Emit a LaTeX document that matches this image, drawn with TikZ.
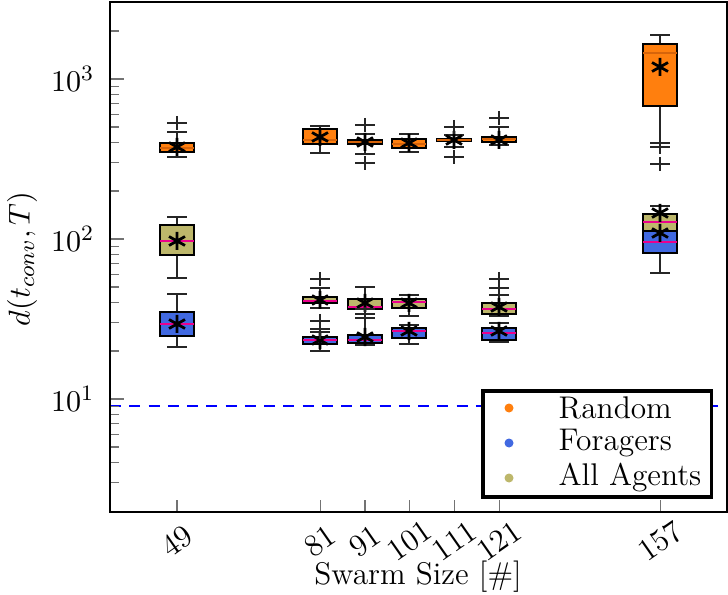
\documentclass[tikz,border=0pt]{standalone}
\usepackage{amsmath,amssymb}
\usepackage{tikz}
\usetikzlibrary{positioning,calc}

\definecolor{randomc}{RGB}{255,127,14}
\definecolor{randomd}{RGB}{215,100,10}
\definecolor{foragc}{RGB}{65,105,225}
\definecolor{allc}{RGB}{189,183,107}

\tikzset{
	box/.style={draw=black,line width=0.45pt},
	whisk/.style={black!85,line width=0.7pt},
	meanmark/.style={black,line width=1pt},
	tickmark/.style={black!55,line width=0.5pt},
	bigtext/.style={font=\fontsize{11.4}{13}\selectfont},
}

\begin{document}
\begin{tikzpicture}[x=0.3636pt,y=-0.3636pt,every node/.style={bigtext}]
	\useasboundingbox (0,0) rectangle (728,594);

	% threshold line
	\draw[blue,line width=0.6pt,dash pattern=on 4pt off 3pt] (110,406) -- (727,406);

	% The boxes: x/upper cap/box top/median/box bottom/lower cap/mean/fill/median colour
	\foreach \x/\uc/\bt/\md/\bb/\lc/\mn/\fc/\mc in {
		177/132/143/148/152/157/147/randomc/randomd,
		177/217/225/241/255/278/241/allc/magenta,
		177/294/312/324/336/347/324/foragc/magenta,
		320/126/129/140/144/153/137/randomc/randomd,
		365/134/140/142/144/154/142/randomc/randomd,
		409/134/139/144/148/152/143/randomc/randomd,
		454/135/139/140/141/147/140/randomc/randomd,
		499/127/137/139/142/145/140/randomc/randomd,
		320/288/297/301/303/308/300/allc/magenta,
		365/287/299/307/309/309/303/allc/magenta,
		409/295/299/302/308/316/303/allc/magenta,
		499/295/303/309/314/316/307/allc/magenta,
		320/329/337/340/344/351/340/foragc/magenta,
		365/309/335/340/343/345/337/foragc/magenta,
		409/325/328/331/338/344/331/foragc/magenta,
		499/323/328/333/340/342/331/foragc/magenta,
		660/35/44/53/106/143/67/randomc/randomd,
		660/206/214/222/231/231/213/allc/magenta,
		660/231/231/242/253/273/233/foragc/magenta}{
		\draw[whisk] (\x,\uc) -- (\x,\lc);
		\draw[whisk] (\x-10,\uc) -- (\x+10,\uc);
		\draw[whisk] (\x-10,\lc) -- (\x+10,\lc);
		\draw[box,fill=\fc] (\x-17,\bt) rectangle (\x+17,\bb);
		\draw[\mc,line width=0.6pt] (\x-17,\md) -- (\x+17,\md);
		\draw[meanmark] (\x,\mn-9) -- (\x,\mn+9)
			(\x-8,\mn-4.5) -- (\x+8,\mn+4.5) (\x-8,\mn+4.5) -- (\x+8,\mn-4.5);
	}

	% Outliers
	\foreach \x/\y in {177/123, 365/125, 365/163, 454/127, 454/157, 499/118,
		320/279, 365/314, 365/318, 499/279, 499/288, 320/321, 320/332,
		660/147, 660/164} {
		\draw[whisk] (\x-10,\y) -- (\x+10,\y) (\x,\y-7) -- (\x,\y+7);
	}

	% Axis ticks
	\foreach \d in {0,1,2,3} {
		\foreach \m in {2,...,9} {
			\pgfmathsetmacro\yy{559-160*(\d+ln(\m)/ln(10))}
			\pgfmathparse{(\yy>4)&&(\yy<510)?1:0}
			\ifnum\pgfmathresult=1
				\draw[tickmark] (110,\yy) -- (119,\yy);
			\fi
		}
	}
	\foreach \e/\yy in {1/399, 2/239, 3/79} {
		\draw[tickmark] (110,\yy) -- (124,\yy);
		\node[anchor=east] (ylab\e) at (104,\yy) {$10^{\e}$};
	}
	\foreach \n in {49,81,91,101,111,121,157} {
		\pgfmathsetmacro\xx{177+4.475*(\n-49)}
		\draw[tickmark] (\xx,512) -- (\xx,500);
		\node[rotate=35] (xlab\n) at (\xx,541) {\n};
	}

	% Frame
	\draw[line width=0.7pt] (110,2) rectangle (727,512);

	% Axis labels
	\node[rotate=90] (ytitle) at (22,259) {$d(t_{conv},T)$};
	\node (xtitle) at (418,577) {Swarm Size [\#]};

	% Legend
	\draw[line width=1.1pt,fill=white] (483,391) rectangle (711,497);
	\foreach \c/\t/\yy in {randomc/Random/408, foragc/Foragers/443, allc/All Agents/478} {
		\fill[\c] (509,\yy) circle (4.5);
		\node[anchor=west] (leg\c) at (549,\yy) {\t};
	}
\end{tikzpicture}
\end{document}
